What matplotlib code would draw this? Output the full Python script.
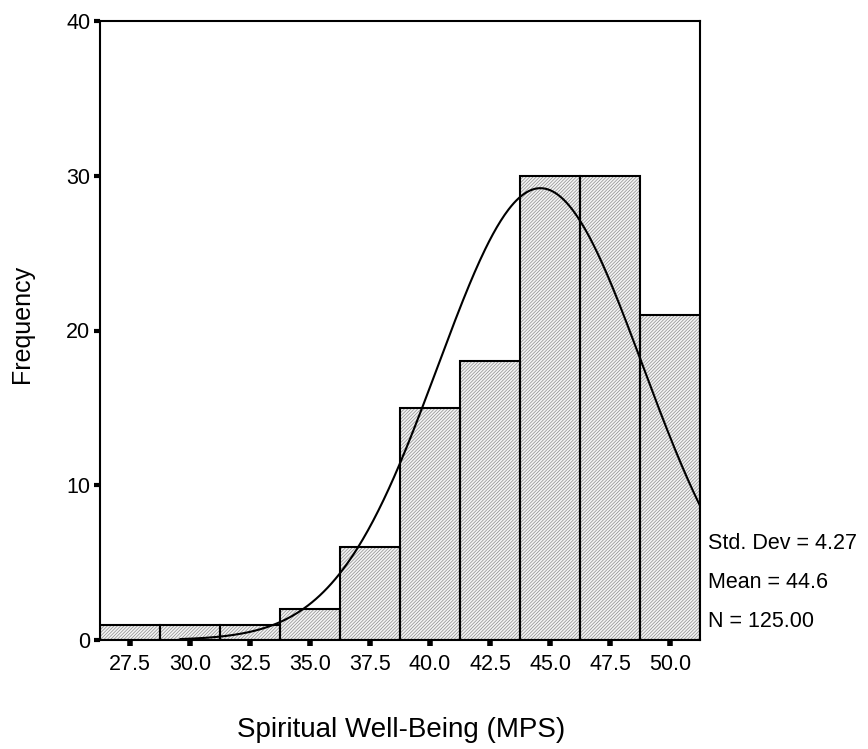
import numpy as np
import matplotlib
matplotlib.use("Agg")
import matplotlib.pyplot as plt

plt.rcParams['font.family'] = ['Liberation Sans', 'DejaVu Sans']
plt.rcParams['hatch.linewidth'] = 0.5

# histogram data
bin_centers = [27.5, 30.0, 32.5, 35.0, 37.5, 40.0, 42.5, 45.0, 47.5, 50.0]
freqs = [1, 1, 1, 2, 6, 15, 18, 30, 30, 21]
bin_width = 2.5

# summary stats shown in the chart
std_dev = 4.27
mean = 44.6
n = 125.00

fig = plt.figure(figsize=(8.68, 7.49), dpi=100)
ax = fig.add_axes([100/868, 1 - 640/749, 600/868, 619/749])

# hatched fill, then black outlines on top
ax.bar(bin_centers, freqs, width=bin_width, facecolor='#f4f4f4',
       edgecolor='#8c8c8c', hatch='/' * 10, linewidth=0, zorder=1)
ax.bar(bin_centers, freqs, width=bin_width, facecolor='none',
       edgecolor='black', linewidth=1.5, zorder=2)

# fitted normal curve from the shown mean / sd / N
xs = np.linspace(29.6, 51.25, 400)
ys = n * bin_width / (std_dev * np.sqrt(2 * np.pi)) * np.exp(-0.5 * ((xs - mean) / std_dev) ** 2)
ax.plot(xs, ys, color='black', linewidth=1.5, zorder=3)

ax.set_xlim(26.25, 51.25)
ax.set_ylim(0, 40)
ax.set_xticks(bin_centers)
ax.set_xticklabels([f'{c:.1f}' for c in bin_centers])
ax.set_yticks([0, 10, 20, 30, 40])

for s in ax.spines.values():
    s.set_linewidth(1.5)

ax.tick_params(axis='x', length=4, width=4, pad=6, labelsize=15.5, direction='out')
ax.tick_params(axis='y', length=4, width=3, pad=3, labelsize=15.5, direction='out')

ax.set_ylabel('Frequency', fontsize=18)
ax.yaxis.set_label_coords(-0.11, 0.511)
ax.set_xlabel('Spiritual Well-Being (MPS)', fontsize=20)
ax.xaxis.set_label_coords(0.502, -0.125)

stats = [f'Std. Dev = {std_dev:.2f}', f'Mean = {mean:.1f}', f'N = {n:.2f}']
for i, t in enumerate(stats):
    ax.text(1.013, 0.156 - i * 0.063, t, transform=ax.transAxes,
            fontsize=15.5, va='center', ha='left')

fig.savefig('out.png', dpi=100)
